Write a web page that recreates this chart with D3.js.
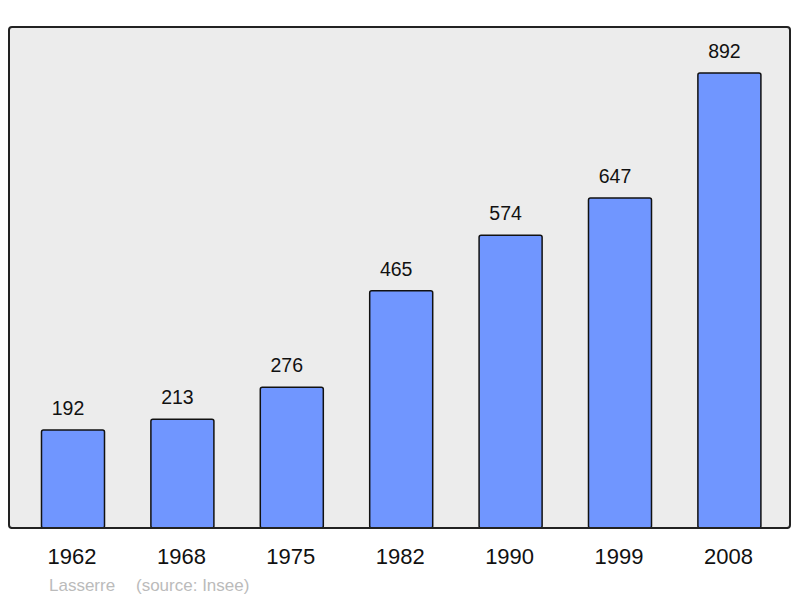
<!DOCTYPE html>
<html>
<head>
<meta charset="utf-8">
<script src="https://cdn.jsdelivr.net/npm/d3@7"></script>
<style>
  body { margin: 0; background: #fff; }
  text { font-family: "Liberation Sans", Arial, sans-serif; }
</style>
</head>
<body>
<div id="chart"></div>
<script>
var years = ["1962", "1968", "1975", "1982", "1990", "1999", "2008"];
var population = [192, 213, 276, 465, 574, 647, 892];
var townName = "Lasserre";
var sourceText = "(source: Insee)";

var width = 800, height = 598;
var svg = d3.select("#chart").append("svg")
    .attr("width", width)
    .attr("height", height);

// plot frame
var frame = {left: 9, top: 27, right: 790, bottom: 528};

svg.append("rect")
    .attr("x", frame.left)
    .attr("y", frame.top)
    .attr("width", frame.right - frame.left)
    .attr("height", frame.bottom - frame.top)
    .attr("rx", 3)
    .attr("fill", "#ececec")
    .attr("stroke", "#222")
    .attr("stroke-width", 2);

var x = d3.scaleBand()
    .domain(years)
    .range([18.3, 784.1])
    .paddingInner(0.424)
    .paddingOuter(0.212);

var y = d3.scaleLinear()
    .domain([0, 982])
    .range([frame.bottom, frame.top]);

var data = years.map(function (d, i) { return {year: d, value: population[i]}; });

svg.selectAll(".bar")
    .data(data)
    .enter()
    .append("rect")
    .attr("class", "bar")
    .attr("x", function (d) { return x(d.year); })
    .attr("y", function (d) { return y(d.value); })
    .attr("width", x.bandwidth())
    .attr("height", function (d) { return y(0) - y(d.value); })
    .attr("rx", 2)
    .attr("fill", "#7096ff")
    .attr("stroke", "#111")
    .attr("stroke-width", 1.5);

// redraw bottom edge of the frame over the bars
svg.append("line")
    .attr("x1", frame.left + 2)
    .attr("x2", frame.right - 2)
    .attr("y1", frame.bottom)
    .attr("y2", frame.bottom)
    .attr("stroke", "#222")
    .attr("stroke-width", 2);

// value labels (sit slightly left of the bar centre, as in the source)
svg.selectAll(".val")
    .data(data)
    .enter()
    .append("text")
    .attr("class", "val")
    .attr("x", function (d) { return x(d.year) + x.bandwidth() / 2 - 5; })
    .attr("y", function (d) { return y(d.value) - 15; })
    .attr("text-anchor", "middle")
    .attr("font-size", 19.5)
    .attr("fill", "#111")
    .text(function (d) { return d.value; });

// x axis labels
var xAxis = svg.append("g")
    .attr("transform", "translate(0," + frame.bottom + ")")
    .call(d3.axisBottom(x).tickSize(0).tickPadding(20));
xAxis.select(".domain").remove();
xAxis.selectAll("text")
    .attr("font-size", 22)
    .attr("font-family", "Liberation Sans, Arial, sans-serif")
    .attr("fill", "#111")
    .attr("dx", -1);

// caption
svg.append("text")
    .attr("x", 49)
    .attr("y", 591)
    .attr("font-size", 17)
    .attr("fill", "#bbb")
    .text(townName);
svg.append("text")
    .attr("x", 136)
    .attr("y", 591)
    .attr("font-size", 17)
    .attr("fill", "#bbb")
    .text(sourceText);
</script>
</body>
</html>
